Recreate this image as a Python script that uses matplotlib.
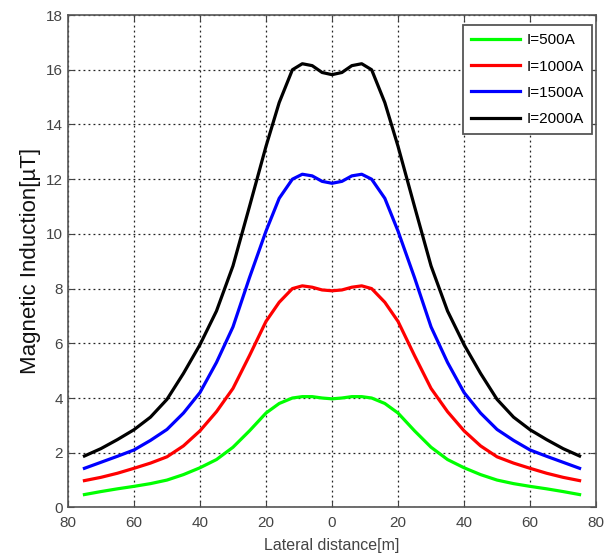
import matplotlib
matplotlib.use("Agg")
import matplotlib.pyplot as plt

plt.rcParams['font.family'] = ['Liberation Sans', 'DejaVu Sans']

x = [-75, -70, -65, -60, -55, -50, -45, -40, -35, -30, -25, -20, -16, -12, -9, -6, -3, 0,
     3, 6, 9, 12, 16, 20, 25, 30, 35, 40, 45, 50, 55, 60, 65, 70, 75]

i500 = [0.47, 0.58, 0.68, 0.77, 0.87, 1.00, 1.20, 1.45, 1.75, 2.20, 2.80, 3.45, 3.80, 4.00, 4.05, 4.05, 4.00, 3.97,
        4.00, 4.05, 4.05, 4.00, 3.80, 3.45, 2.80, 2.20, 1.75, 1.45, 1.20, 1.00, 0.87, 0.77, 0.68, 0.58, 0.47]
i1000 = [0.98, 1.10, 1.25, 1.43, 1.62, 1.85, 2.25, 2.80, 3.50, 4.35, 5.55, 6.80, 7.50, 8.00, 8.10, 8.05, 7.95, 7.92,
         7.95, 8.05, 8.10, 8.00, 7.50, 6.80, 5.55, 4.35, 3.50, 2.80, 2.25, 1.85, 1.62, 1.43, 1.25, 1.10, 0.98]
i1500 = [1.43, 1.65, 1.87, 2.10, 2.45, 2.85, 3.45, 4.20, 5.30, 6.60, 8.40, 10.10, 11.30, 12.00, 12.18, 12.12, 11.92, 11.85,
         11.92, 12.12, 12.18, 12.00, 11.30, 10.10, 8.40, 6.60, 5.30, 4.20, 3.45, 2.85, 2.45, 2.10, 1.87, 1.65, 1.43]
i2000 = [1.88, 2.15, 2.48, 2.84, 3.30, 3.95, 4.90, 5.95, 7.18, 8.83, 11.00, 13.20, 14.80, 16.00, 16.22, 16.15, 15.90, 15.82,
         15.90, 16.15, 16.22, 16.00, 14.80, 13.20, 11.00, 8.83, 7.18, 5.95, 4.90, 3.95, 3.30, 2.84, 2.48, 2.15, 1.88]

labels = ['I=500A', 'I=1000A', 'I=1500A', 'I=2000A']
colors = ['#00ff00', '#ff0000', '#0000ff', '#000000']

xticks = [-80, -60, -40, -20, 0, 20, 40, 60, 80]
xticklabels = ['80', '60', '40', '20', '0', '20', '40', '60', '80']
yticks = [0, 2, 4, 6, 8, 10, 12, 14, 16, 18]

fig = plt.figure(figsize=(6.12, 5.57), dpi=100)
ax = fig.add_axes([0.111, 0.089, 0.863, 0.884])

for ys, lab, c in zip([i500, i1000, i1500, i2000], labels, colors):
    ax.plot(x, ys, color=c, lw=2.3, label=lab, solid_joinstyle='round')

ax.set_xlim(-80, 80)
ax.set_ylim(0, 18)
ax.set_xticks(xticks)
ax.set_xticklabels(xticklabels)
ax.set_yticks(yticks)
ax.tick_params(direction='in', length=4, labelsize=11, colors='#444444', top=True, right=True)
ax.tick_params(axis='x', pad=6)
ax.grid(True, color='#222222', linestyle=(0, (1.5, 2.5)), linewidth=0.9)
for s in ax.spines.values():
    s.set_color('#555555')
    s.set_linewidth(1.2)

ax.set_xlabel('Lateral distance[m]', fontsize=11.5, color='#444444', labelpad=6)
ax.set_ylabel('Magnetic Induction[µT]', fontsize=16, color='#111111', labelpad=4)

leg = ax.legend(loc='upper right', fontsize=11, frameon=True, fancybox=False,
                edgecolor='#555555', framealpha=1, handlelength=3.2, handletextpad=0.4,
                borderpad=0.55, labelspacing=0.8, borderaxespad=0,
                bbox_to_anchor=(592 / 612, 1 - 25 / 557), bbox_transform=fig.transFigure)
leg.get_frame().set_linewidth(1.3)

fig.savefig('out.png', dpi=100)
